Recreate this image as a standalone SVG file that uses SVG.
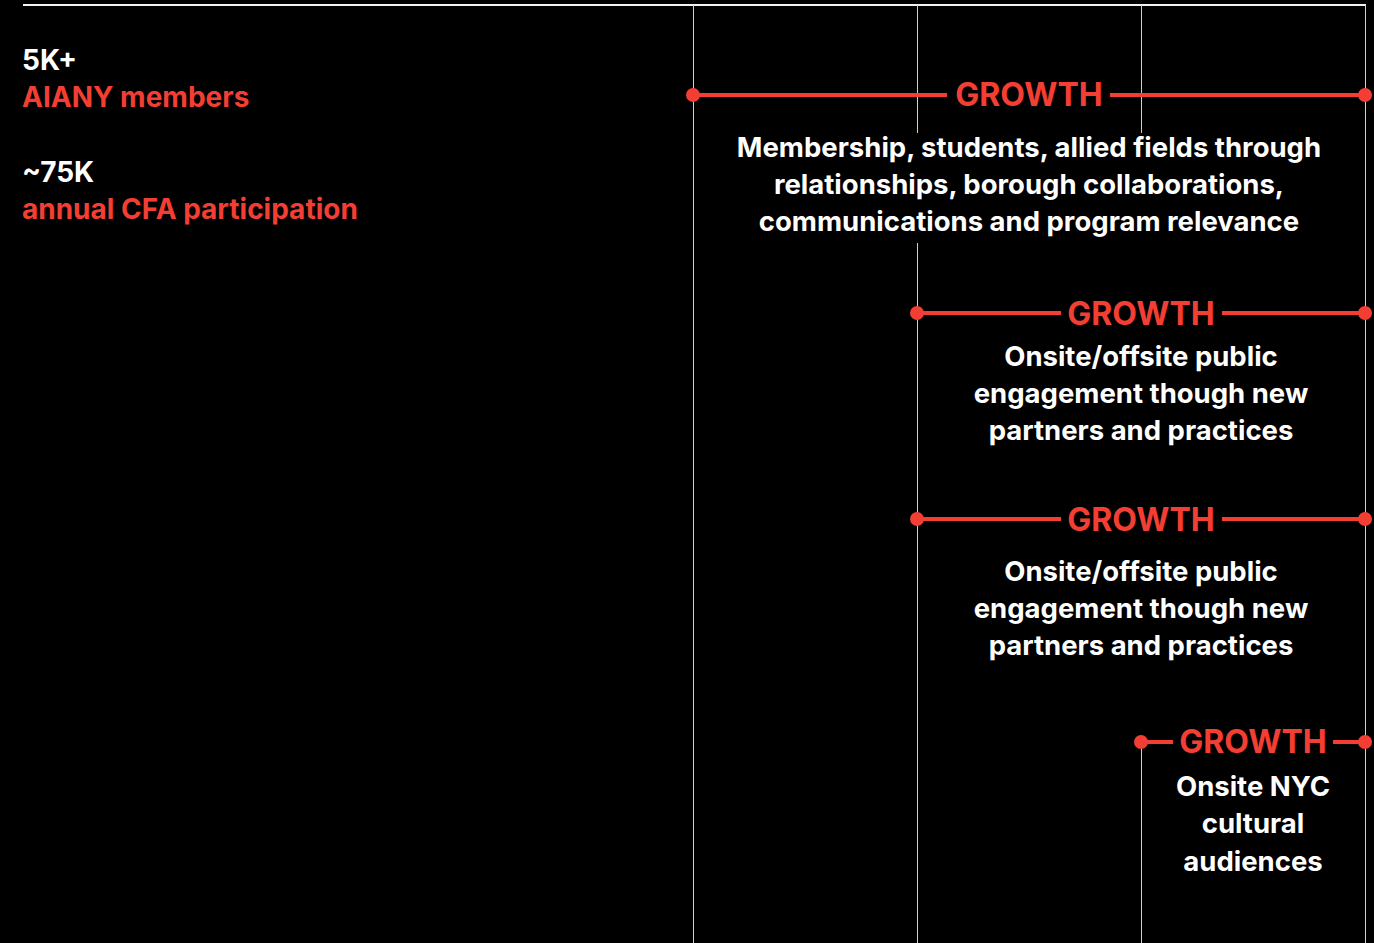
<svg xmlns="http://www.w3.org/2000/svg" width="1374" height="943" viewBox="0 0 1374 943">
<defs>
<style>
.t{font-family:Inter,"Liberation Sans",Arial,sans-serif;font-weight:bold;}
.w{fill:#fff;font-size:28px;}
.r{fill:#f33f33;font-size:28px;}
.b{fill:#fff;font-size:27.5px;text-anchor:middle;}
.g{fill:#f33f33;font-size:32px;text-anchor:middle;}
.grid{stroke:#d0d0d0;stroke-width:1;fill:none;}
.red{stroke:#f33f33;stroke-width:4;fill:none;}
.dot{fill:#f33f33;}
.bg{fill:#000;}
</style>
</defs>
<rect width="1374" height="943" fill="#000"/>
<g id="connectors">
<line x1="23" y1="5" x2="1366" y2="5" stroke="#f2f2f2" stroke-width="2"/>
<line class="grid" x1="693.5" y1="5" x2="693.5" y2="943"/>
<line class="grid" x1="917.5" y1="5" x2="917.5" y2="133"/>
<line class="grid" x1="917.5" y1="243" x2="917.5" y2="943"/>
<line class="grid" x1="1141.5" y1="5" x2="1141.5" y2="133"/>
<line class="grid" x1="1141.5" y1="742" x2="1141.5" y2="943"/>
<line class="grid" x1="1365.5" y1="5" x2="1365.5" y2="943"/>
</g>
<g id="stats">
<text class="t w" x="22" y="70">5K+</text>
<text class="t r" x="22" y="107">AIANY members</text>
<text class="t w" x="22" y="182">~75K</text>
<text class="t r" x="22" y="219">annual CFA participation</text>
</g>
<g id="growth1">
<line class="red" x1="693" y1="95" x2="947" y2="95"/>
<line class="red" x1="1110" y1="95" x2="1365" y2="95"/>
<circle class="dot" cx="693" cy="95" r="7"/>
<circle class="dot" cx="1365" cy="95" r="7"/>
<text class="t g" x="1029" y="106">GROWTH</text>
<text class="t b" x="1029" y="157">Membership, students, allied fields through</text>
<text class="t b" x="1029" y="194">relationships, borough collaborations,</text>
<text class="t b" x="1029" y="231">communications and program relevance</text>
</g>
<g id="growth2">
<line class="red" x1="917" y1="313" x2="1061" y2="313"/>
<line class="red" x1="1222" y1="313" x2="1365" y2="313"/>
<circle class="dot" cx="917" cy="313" r="7"/>
<circle class="dot" cx="1365" cy="313" r="7"/>
<text class="t g" x="1141" y="325">GROWTH</text>
<text class="t b" x="1141" y="366">Onsite/offsite public</text>
<text class="t b" x="1141" y="403">engagement though new</text>
<text class="t b" x="1141" y="440">partners and practices</text>
</g>
<g id="growth3">
<line class="red" x1="917" y1="519" x2="1061" y2="519"/>
<line class="red" x1="1222" y1="519" x2="1365" y2="519"/>
<circle class="dot" cx="917" cy="519" r="7"/>
<circle class="dot" cx="1365" cy="519" r="7"/>
<text class="t g" x="1141" y="531">GROWTH</text>
<text class="t b" x="1141" y="581">Onsite/offsite public</text>
<text class="t b" x="1141" y="618">engagement though new</text>
<text class="t b" x="1141" y="655">partners and practices</text>
</g>
<g id="growth4">
<line class="red" x1="1141" y1="742" x2="1173" y2="742"/>
<line class="red" x1="1333" y1="742" x2="1365" y2="742"/>
<circle class="dot" cx="1141" cy="742" r="7"/>
<circle class="dot" cx="1365" cy="742" r="7"/>
<text class="t g" x="1253" y="753">GROWTH</text>
<text class="t b" x="1253" y="796">Onsite NYC</text>
<text class="t b" x="1253" y="833">cultural</text>
<text class="t b" x="1253" y="871">audiences</text>
</g>
</svg>
